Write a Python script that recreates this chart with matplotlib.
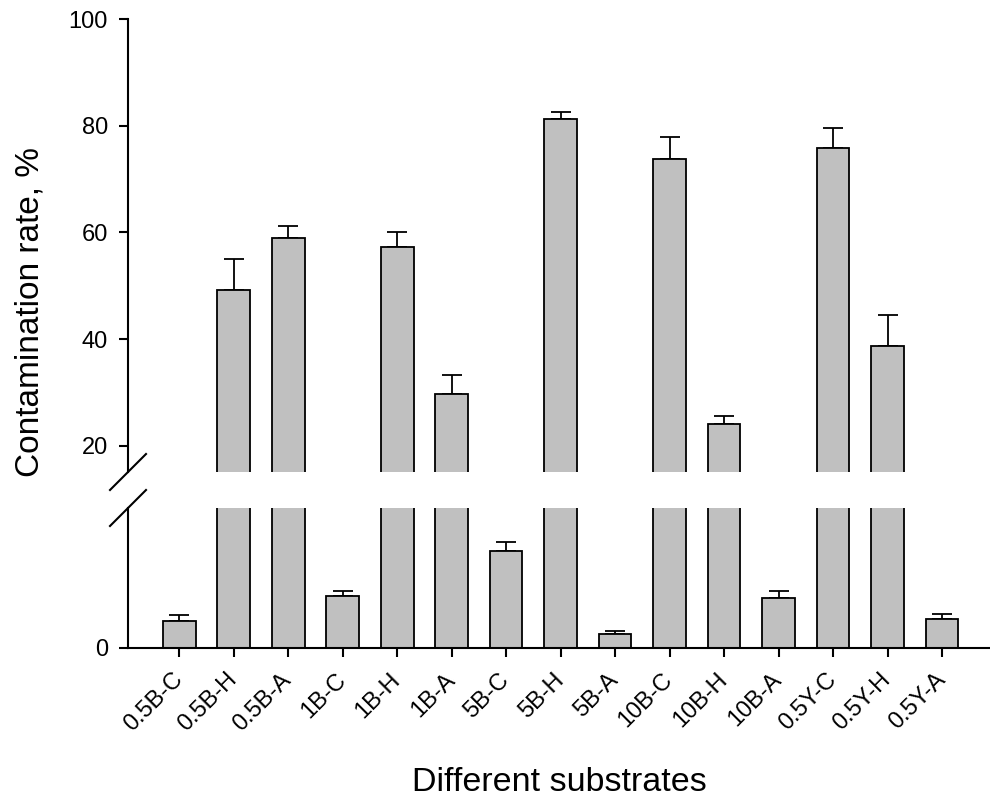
import matplotlib
matplotlib.use("Agg")
import matplotlib.pyplot as plt
import numpy as np

plt.rcParams['font.family'] = ['Liberation Sans', 'DejaVu Sans']

# 数据
substrates = ['0.5B-C', '0.5B-H', '0.5B-A', '1B-C', '1B-H', '1B-A',
              '5B-C', '5B-H', '5B-A', '10B-C', '10B-H', '10B-A',
              '0.5Y-C', '0.5Y-H', '0.5Y-A']
rate = [1.9, 49.2, 59.0, 3.7, 57.2, 29.8,
        6.9, 81.3, 1.0, 73.8, 24.1, 3.6,
        75.9, 38.8, 2.1]
rate_err = [0.45, 5.8, 2.2, 0.35, 2.8, 3.4,
            0.7, 1.3, 0.22, 4.0, 1.5, 0.5,
            3.7, 5.7, 0.3]
top_ticks = [20, 40, 60, 80, 100]
bottom_ticks = [0]

bar_color = '#c0c0c0'
lw = 1.5

fig = plt.figure(figsize=(9.9, 8.0), dpi=100)
ax_top = fig.add_axes([0.1293, 0.41, 0.8707, 0.56625])
ax_bot = fig.add_axes([0.1293, 0.19, 0.8707, 0.175])

x = np.arange(len(substrates))
yerr = [np.zeros(len(rate)), rate_err]

for ax in (ax_top, ax_bot):
    ax.bar(x, rate, width=0.6, color=bar_color, edgecolor='black', linewidth=1.3, zorder=2)
    ax.errorbar(x, rate, yerr=yerr, fmt='none', ecolor='black', elinewidth=1.3,
                capsize=7, capthick=1.3, zorder=1)
    ax.set_xlim(-0.94, 14.88)
    for s in ('top', 'right'):
        ax.spines[s].set_visible(False)
    ax.spines['left'].set_linewidth(lw)
    ax.tick_params(axis='y', direction='out', length=6.5, width=lw, labelsize=17, pad=8)

ax_top.set_ylim(15.1, 100)
ax_top.set_yticks(top_ticks)
ax_top.spines['bottom'].set_visible(False)
ax_top.set_xticks([])

ax_bot.set_ylim(0, 10)
ax_bot.set_yticks(bottom_ticks)
ax_bot.spines['bottom'].set_linewidth(lw)
ax_bot.set_xticks(x)
ax_bot.set_xticklabels(substrates, rotation=45, ha='right', va='center',
                       rotation_mode='anchor', fontsize=17)
ax_bot.tick_params(axis='x', direction='out', length=6.5, width=lw, pad=14)
ax_bot.set_xlabel('Different substrates', fontsize=24.5, labelpad=22)

fig.text(0.03, 0.61, 'Contamination rate, %', rotation=90, fontsize=24,
         ha='center', va='center')

# 断轴符号 (±18 像素)
dx, dy = 18 / 990, 18 / 800
for ax, yv in ((ax_top, 0.0), (ax_bot, 1.0)):
    bb = ax.get_position()
    x0 = bb.x0
    y0 = bb.y0 + yv * bb.height
    fig.add_artist(plt.Line2D([x0 - dx, x0 + dx], [y0 - dy, y0 + dy],
                              transform=fig.transFigure, color='black', lw=lw))

fig.savefig('out.png', dpi=100)
